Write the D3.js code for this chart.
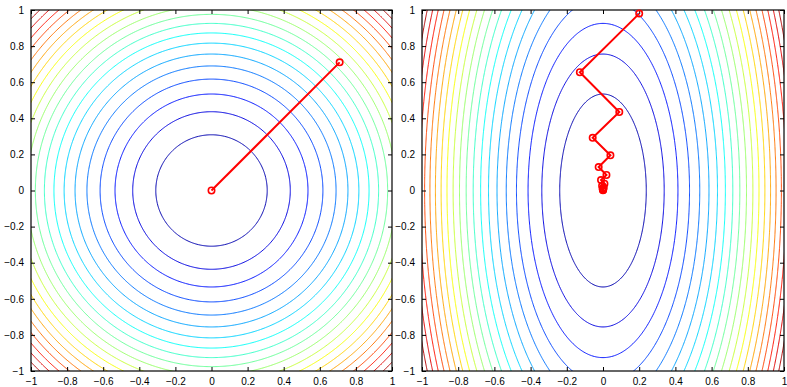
<!DOCTYPE html>
<html>
<head>
<meta charset="utf-8">
<script src="https://cdn.jsdelivr.net/npm/d3@7"></script>
<style>
  body { margin: 0; background: #fff; }
  svg { display: block; }
  .tick text { font-family: "Liberation Sans", Arial, sans-serif; font-size: 10px; fill: #000; }
</style>
</head>
<body>
<div id="chart"></div>
<script>
// tick values, shared by both panels and both axes
const ticks = [-1, -0.8, -0.6, -0.4, -0.2, 0, 0.2, 0.4, 0.6, 0.8, 1];

// quadratic bowls f = a*x^2 + b*y^2
const bowlLeft = [1, 1];
const bowlRight = [5, 1];
const levelCount = 20;

// descent paths
const pathLeftX = [0.71, 0];
const pathLeftY = [0.71, 0];
const pathRightX = [0.2, -0.128, 0.09, -0.057, 0.041, -0.024, 0.019, -0.011, 0.008, -0.005, 0.004, -0.002, 0.0015, -0.001, 0.0006, 0];
const pathRightY = [0.98, 0.655, 0.435, 0.292, 0.195, 0.13, 0.086, 0.058, 0.038, 0.026, 0.017, 0.011, 0.0075, 0.005, 0.0034, 0.002];

const W = 787, H = 387;
const svg = d3.select("#chart").append("svg")
  .attr("width", W)
  .attr("height", H);

function jet(t) {
  const c = v => Math.max(0, Math.min(1, v));
  const r = c(1.5 - Math.abs(4 * t - 3));
  const g = c(1.5 - Math.abs(4 * t - 2));
  const b = c(1.5 - Math.abs(4 * t - 1));
  return d3.rgb(r * 255, g * 255, b * 255).toString();
}

function panel(id, box, bowl, px, py) {
  const x = d3.scaleLinear().domain([-1, 1]).range([box.left, box.right]);
  const y = d3.scaleLinear().domain([-1, 1]).range([box.bottom, box.top]);

  // sample the surface on a grid a bit wider than the axes
  const x0 = -1.05, h = 0.005;
  const n = Math.round(2.1 / h) + 1;
  const values = new Float64Array(n * n);
  for (let j = 0; j < n; j++) {
    const gy = x0 + j * h;
    for (let i = 0; i < n; i++) {
      const gx = x0 + i * h;
      values[i + j * n] = bowl[0] * gx * gx + bowl[1] * gy * gy;
    }
  }
  const fmax = bowl[0] + bowl[1];
  const levels = d3.range(1, levelCount + 1).map(k => k * fmax / (levelCount + 1));

  const contours = d3.contours().size([n, n]).thresholds(levels)(values);
  const proj = d3.geoTransform({
    point: function(cx, cy) {
      this.stream.point(x(x0 + (cx - 0.5) * h), y(x0 + (cy - 0.5) * h));
    }
  });
  const path = d3.geoPath(proj);

  svg.append("clipPath").attr("id", id)
    .append("rect")
      .attr("x", box.left).attr("y", box.top)
      .attr("width", box.right - box.left)
      .attr("height", box.bottom - box.top);

  const g = svg.append("g").attr("clip-path", `url(#${id})`);
  g.selectAll("path.c")
    .data(contours)
    .enter().append("path")
      .attr("class", "c")
      .attr("d", path)
      .attr("fill", "none")
      .attr("stroke", d => jet(d.value / fmax))
      .attr("stroke-width", 1);

  // axes, ticks inside like matlab
  const fmt = d => (d < 0 ? "\u2212" : "") + Math.abs(d);
  svg.append("g")
      .attr("transform", `translate(0,${box.bottom})`)
      .call(d3.axisBottom(x).tickValues(ticks).tickSize(-4).tickPadding(7).tickFormat(fmt))
      .call(g => g.select(".domain").remove());
  svg.append("g")
      .attr("transform", `translate(0,${box.top})`)
      .call(d3.axisTop(x).tickValues(ticks).tickSize(-4).tickFormat(""))
      .call(g => g.select(".domain").remove());
  svg.append("g")
      .attr("transform", `translate(${box.left},0)`)
      .call(d3.axisLeft(y).tickValues(ticks).tickSize(-4).tickPadding(7).tickFormat(fmt))
      .call(g => g.select(".domain").remove());
  svg.append("g")
      .attr("transform", `translate(${box.right},0)`)
      .call(d3.axisRight(y).tickValues(ticks).tickSize(-4).tickFormat(""))
      .call(g => g.select(".domain").remove());
  svg.selectAll(".tick line").attr("stroke", "#000");

  svg.append("rect")
    .attr("x", box.left).attr("y", box.top)
    .attr("width", box.right - box.left)
    .attr("height", box.bottom - box.top)
    .attr("fill", "none")
    .attr("stroke", "#000")
    .attr("stroke-width", 1.2);

  // descent path
  const pts = px.map((v, i) => [v, py[i]]);
  const line = d3.line().x(d => x(d[0])).y(d => y(d[1]));
  svg.append("path")
    .datum(pts)
    .attr("d", line)
    .attr("fill", "none")
    .attr("stroke", "#ff0000")
    .attr("stroke-width", 2);
  svg.append("g").selectAll("circle")
    .data(pts)
    .enter().append("circle")
      .attr("cx", d => x(d[0]))
      .attr("cy", d => y(d[1]))
      .attr("r", 3.2)
      .attr("fill", "none")
      .attr("stroke", "#ff0000")
      .attr("stroke-width", 1.6);
}

panel("clipL", {left: 31, right: 392, top: 10, bottom: 371}, bowlLeft, pathLeftX, pathLeftY);
panel("clipR", {left: 422, right: 784, top: 10, bottom: 371}, bowlRight, pathRightX, pathRightY);
</script>
</body>
</html>
